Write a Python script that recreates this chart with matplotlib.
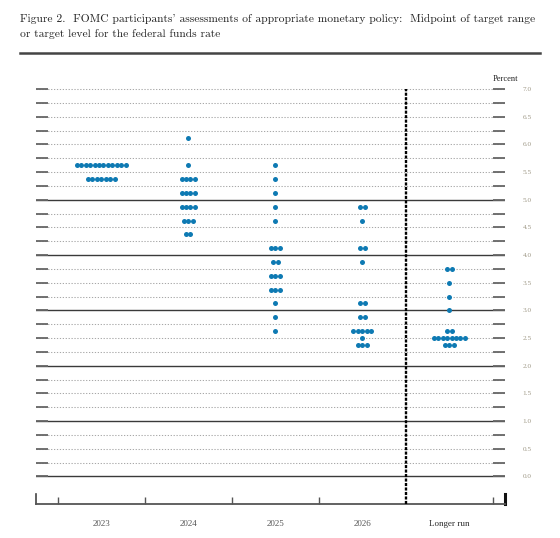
import numpy as np
import matplotlib.pyplot as plt
from matplotlib.lines import Line2D

# FOMC dot plot, Sept 2023 style
years = ['2023', '2024', '2025', '2026', 'Longer run']

rates_2023 = [5.625, 5.375]
counts_2023 = [12, 7]

rates_2024 = [6.125, 5.625, 5.375, 5.125, 4.875, 4.625, 4.375]
counts_2024 = [1, 1, 4, 4, 4, 3, 2]

rates_2025 = [5.625, 5.375, 5.125, 4.875, 4.625, 4.125, 3.875, 3.625, 3.375, 3.125, 2.875, 2.625]
counts_2025 = [1, 1, 1, 1, 1, 3, 2, 3, 3, 1, 1, 1]

rates_2026 = [4.875, 4.625, 4.125, 3.875, 3.125, 2.875, 2.625, 2.5, 2.375]
counts_2026 = [2, 1, 2, 1, 2, 2, 5, 1, 3]

rates_lr = [3.75, 3.5, 3.25, 3.0, 2.625, 2.5, 2.375]
counts_lr = [2, 1, 1, 1, 2, 8, 3]

all_rates = [rates_2023, rates_2024, rates_2025, rates_2026, rates_lr]
all_counts = [counts_2023, counts_2024, counts_2025, counts_2026, counts_lr]

W, H = 560, 538
fig = plt.figure(figsize=(W / 100, H / 100), dpi=100)
fig.patch.set_facecolor('white')

# axes box in pixel terms
x0, x1 = 36, 505
y_top, y_bot = 86.4, 504
ax = fig.add_axes([x0 / W, (H - y_bot) / H, (x1 - x0) / W, (y_bot - y_top) / H])
ax.set_xlim(-0.75, 4.64)
ax.set_ylim(-0.5, 7.05)

for s in ['left', 'right', 'top']:
    ax.spines[s].set_visible(False)
ax.spines['bottom'].set_color('#555555')
ax.spines['bottom'].set_linewidth(1.3)

# horizontal grid: solid at whole numbers up to 5, dotted elsewhere
levels = np.arange(0, 7.01, 0.25)
for lv in levels:
    if lv <= 5 and lv == int(lv):
        ax.axhline(lv, color='#3a3a3a', lw=1.0, zorder=1)
    else:
        ax.axhline(lv, color='#a8a8a8', lw=0.75, ls=(0, (1.2, 1.6)), zorder=1)

# tick dashes on both sides
ax.set_yticks(levels)
ax.set_yticklabels(['%.1f' % lv if lv * 2 == int(lv * 2) else '' for lv in levels])
ax.tick_params(axis='y', which='major', direction='in', left=True, right=True,
               labelleft=False, labelright=True, length=8.5, width=1.3,
               color='#666666', labelsize=5.2, labelcolor='#a09a88', pad=16)
for lab in ax.get_yticklabels():
    lab.set_fontfamily('Liberation Serif')
    lab.set_horizontalalignment('center')

# x axis: small ticks between categories, labels at category centres
ax.set_xticks([-0.5, 0.5, 1.5, 2.5, 4.5])
ax.set_xticklabels([])
ax.tick_params(axis='x', which='major', direction='in', length=5, width=1.0, color='#555555')
ax.set_xticks(range(len(years)), minor=True)
ax.set_xticklabels(years, minor=True, fontfamily='Liberation Serif', fontsize=6.5)
ax.tick_params(axis='x', which='minor', length=0, pad=11.5, labelcolor='#555555')
ax.get_xticklabels(minor=True)[-1].set_color('#2a2a2a')

# end caps of the x axis
trans = ax.get_xaxis_transform()
ax.plot([-0.75, -0.75], [0, 0.025], transform=trans, color='#444444', lw=1.2, clip_on=False)
ax.plot([4.64, 4.64], [0, 0.025], transform=trans, color='#111111', lw=2.2, clip_on=False)

# divider before the longer run
ax.plot([3.5, 3.5], [-0.5, 7.0], color='black', lw=1.7, ls=(0, (1.3, 0.6)), zorder=3)

# dots
step = 0.051
for i, (rates, counts) in enumerate(zip(all_rates, all_counts)):
    for r, n in zip(rates, counts):
        xs = i + (np.arange(n) - (n - 1) / 2) * step
        ax.plot(xs, [r] * n, 'o', ms=3.6, mew=0, color='#0e7ab3', zorder=4)

# title block
fig.text(20 / W, 1 - 19 / H,
         "Figure 2.  FOMC participants' assessments of appropriate monetary policy:  Midpoint of target range",
         family='cmr10', fontsize=8.3, va='center', ha='left', color='#222222')
fig.text(20 / W, 1 - 34 / H, "or target level for the federal funds rate",
         family='cmr10', fontsize=8.3, va='center', ha='left', color='#222222')
fig.add_artist(Line2D([20 / W, 540 / W], [1 - 53 / H, 1 - 53 / H], color='#444444', lw=1.8))

fig.text(505 / W, 1 - 79 / H, 'Percent', family='Liberation Serif', fontsize=6,
         ha='center', va='center', color='#222222')

fig.savefig('out.png', dpi=100)
